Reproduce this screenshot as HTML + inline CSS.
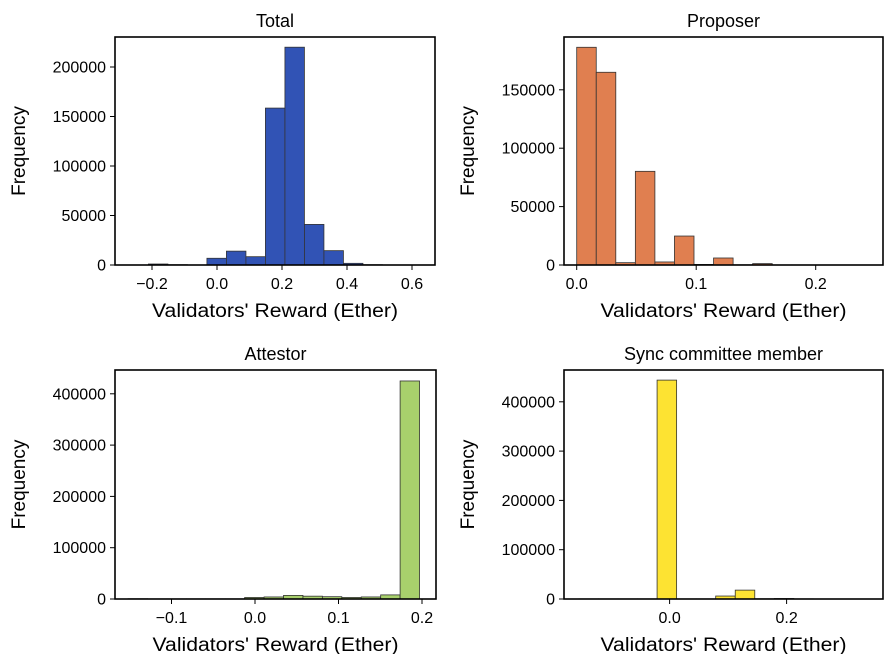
<!DOCTYPE html>
<html><head><meta charset="utf-8">
<style>
html,body{margin:0;padding:0;background:#fff;}
svg{display:block;font-family:"Liberation Sans","DejaVu Sans",sans-serif;}
</style></head>
<body>
<svg id="fig" width="891" height="654" viewBox="0 0 891 654" xmlns="http://www.w3.org/2000/svg"></svg>
<script>
// ---- data ----
const totalBinStart = -0.271;
const totalBinWidth = 0.06;
const totalCounts = [100, 1000, 300, 0, 6800, 14000, 8400, 158500, 220000, 41000, 14500, 1700, 300, 100, 100];
const totalXTicks = [-0.2, 0.0, 0.2, 0.4, 0.6];
const totalXTickLabels = ["\u22120.2", "0.0", "0.2", "0.4", "0.6"];
const totalYTicks = [0, 50000, 100000, 150000, 200000];

const proposerBinStart = 0.0;
const proposerBinWidth = 0.01636;
const proposerCounts = [186400, 165000, 2000, 80200, 2600, 24800, 500, 6000, 200, 1200, 100, 100, 50, 50, 50];
const proposerXTicks = [0.0, 0.1, 0.2];
const proposerXTickLabels = ["0.0", "0.1", "0.2"];
const proposerYTicks = [0, 50000, 100000, 150000];

const attestorBinStart = -0.152;
const attestorBinWidth = 0.02327;
const attestorCounts = [500, 300, 300, 300, 300, 300, 3000, 4000, 7000, 5500, 4500, 3000, 4000, 8000, 425000];
const attestorXTicks = [-0.1, 0.0, 0.1, 0.2];
const attestorXTickLabels = ["\u22120.1", "0.0", "0.1", "0.2"];
const attestorYTicks = [0, 100000, 200000, 300000, 400000];

const syncBinStart = -0.155;
const syncBinWidth = 0.0334;
const syncCounts = [300, 300, 300, 300, 444000, 300, 300, 6000, 18000, 500, 1000, 300, 200, 100, 100];
const syncXTicks = [0.0, 0.2];
const syncXTickLabels = ["0.0", "0.2"];
const syncYTicks = [0, 100000, 200000, 300000, 400000];

// ---- layout (pixel geometry, not data) ----
const panels = [
  {key:'total', title:'Total', color:'#3153b5', L:115, R:435, T:37, B:265,
   x0:217, xs:325, ys:198/200000, start:totalBinStart, w:totalBinWidth, counts:totalCounts,
   xt:totalXTicks, xtl:totalXTickLabels, yt:totalYTicks},
  {key:'proposer', title:'Proposer', color:'#e07f50', L:564, R:883, T:37, B:265,
   x0:576.7, xs:1195, ys:58.4/50000, start:proposerBinStart, w:proposerBinWidth, counts:proposerCounts,
   xt:proposerXTicks, xtl:proposerXTickLabels, yt:proposerYTicks},
  {key:'attestor', title:'Attestor', color:'#a8d06c', L:115, R:436, T:370, B:599,
   x0:255, xs:835, ys:51.3/100000, start:attestorBinStart, w:attestorBinWidth, counts:attestorCounts,
   xt:attestorXTicks, xtl:attestorXTickLabels, yt:attestorYTicks},
  {key:'sync', title:'Sync committee member', color:'#fde332', L:564, R:883, T:370, B:599,
   x0:669.6, xs:585, ys:49.3/100000, start:syncBinStart, w:syncBinWidth, counts:syncCounts,
   xt:syncXTicks, xtl:syncXTickLabels, yt:syncYTicks}
];

const NS = 'http://www.w3.org/2000/svg';
const fig = document.getElementById('fig');
function mk(tag, attrs, parent){
  const e = document.createElementNS(NS, tag);
  for (const k in attrs) e.setAttribute(k, attrs[k]);
  (parent||fig).appendChild(e);
  return e;
}

panels.forEach(p => {
  const xS = v => p.x0 + v * p.xs;
  const yS = v => p.B - v * p.ys;
  const g = mk('g', {});
  
  

  p.counts.forEach((c, i) => {
    const a = xS(p.start + i * p.w), b = xS(p.start + (i + 1) * p.w);
    const y = yS(c);
    const r = mk('rect', {x:a, y:y, width:b - a, height:p.B - y, fill:p.color, stroke:'#333', 'stroke-width':0.8}, g);
    
    
  });

  const fr = mk('rect', {x:p.L, y:p.T, width:p.R - p.L, height:p.B - p.T, fill:'none', stroke:'#000', 'stroke-width':1.6}, g);
  
  

  p.xt.forEach((v, i) => {
    const x = xS(v);
    mk('line', {x1:x, x2:x, y1:p.B, y2:p.B + 5, stroke:'#000', 'stroke-width':1}, g);
    const t = mk('text', {x:x, y:p.B + 24, 'text-anchor':'middle', 'font-size':16, fill:'#000'}, g);
    t.textContent = p.xtl[i];
    
    
  });
  p.yt.forEach(v => {
    const y = yS(v);
    mk('line', {x1:p.L - 5, x2:p.L, y1:y, y2:y, stroke:'#000', 'stroke-width':1}, g);
    const t = mk('text', {x:p.L - 9, y:y + 5.5, 'text-anchor':'end', 'font-size':16, fill:'#000'}, g);
    t.textContent = String(v);
    
    
  });

  const ti = mk('text', {x:(p.L + p.R) / 2, y:p.T - 10, 'text-anchor':'middle', 'font-size':18, fill:'#000'}, g);
  ti.textContent = p.title;
  
  

  const xl = mk('text', {x:(p.L + p.R) / 2, y:p.B + 52, 'text-anchor':'middle', 'font-size':19, textLength:246, lengthAdjust:'spacingAndGlyphs', fill:'#000'}, g);
  xl.textContent = "Validators' Reward (Ether)";
  
  

  const lx = p.L - 90, ly = (p.T + p.B) / 2;
  const yl = mk('text', {x:lx, y:ly, 'text-anchor':'middle', 'font-size':19, transform:'rotate(-90 ' + lx + ' ' + ly + ')', fill:'#000'}, g);
  yl.textContent = 'Frequency';
  
  
});
</script>
</body></html>
